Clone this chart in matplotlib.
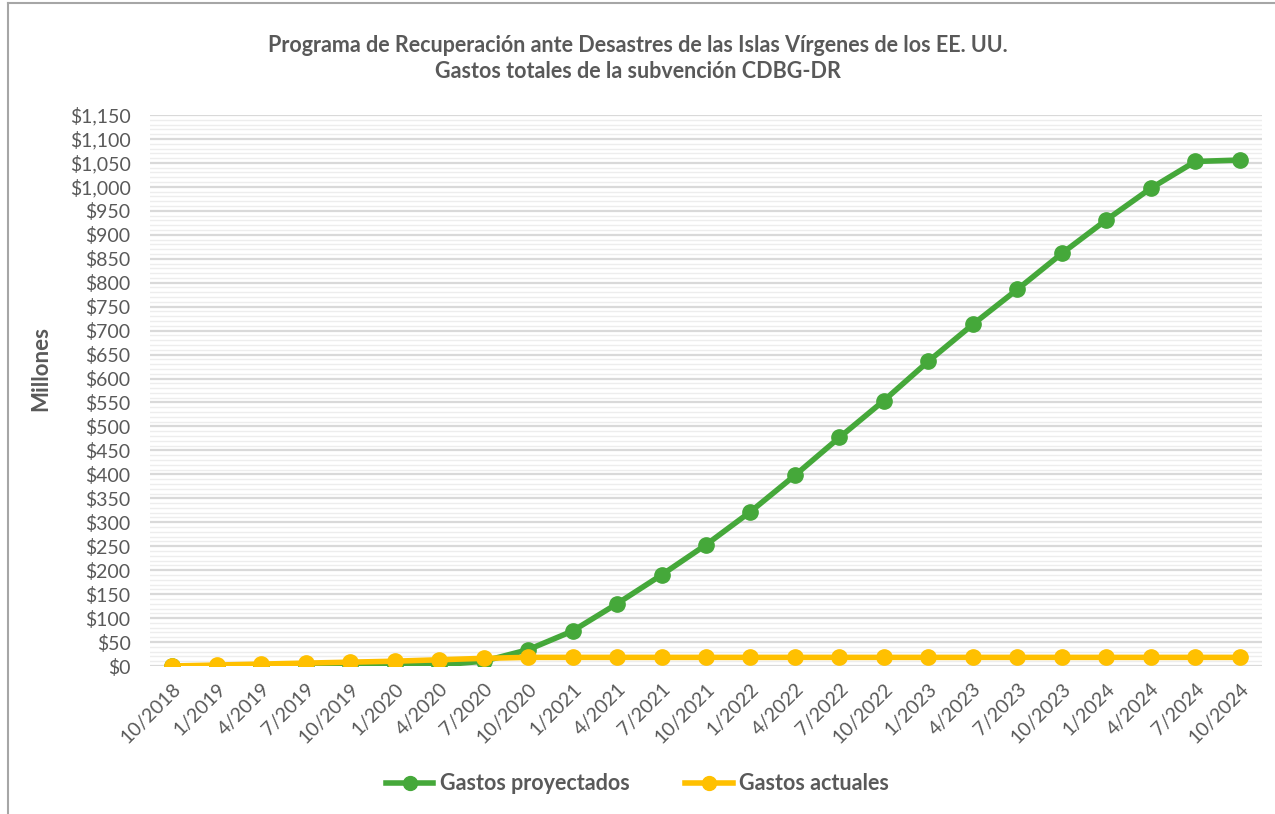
import numpy as np
import matplotlib.pyplot as plt
from matplotlib.ticker import MultipleLocator, FuncFormatter
from matplotlib.lines import Line2D

plt.rcParams['font.family'] = ['Lato', 'DejaVu Sans']

fechas = ['10/2018', '1/2019', '4/2019', '7/2019', '10/2019', '1/2020', '4/2020',
          '7/2020', '10/2020', '1/2021', '4/2021', '7/2021', '10/2021', '1/2022',
          '4/2022', '7/2022', '10/2022', '1/2023', '4/2023', '7/2023', '10/2023',
          '1/2024', '4/2024', '7/2024', '10/2024']

# millones de dólares
proyectados = [0, 0, 1, 2, 3, 3, 2, 10, 34, 73, 130, 190, 253, 322, 398, 477,
               554, 636, 713, 786, 861, 931, 997, 1053, 1056]
actuales = [0, 2, 4, 6, 8, 10, 13, 16, 18, 18, 18, 18, 18, 18, 18, 18,
            18, 18, 18, 18, 18, 18, 18, 18, 18]

verde = '#45A83A'
amarillo = '#FFC000'
gris = '#595959'

fig = plt.figure(figsize=(12.75, 8.14), dpi=100)
ax = fig.add_axes([150 / 1275, 1 - 666 / 814, 1112 / 1275, 551 / 814])

x = np.arange(len(fechas))
ax.plot(x, proyectados, color=verde, lw=4, marker='o', ms=11, zorder=3)
ax.plot(x, actuales, color=amarillo, lw=4, marker='o', ms=11, zorder=4)

ax.set_xlim(-0.5, len(fechas) - 0.5)
ax.set_ylim(0, 1150)
ax.yaxis.set_major_locator(MultipleLocator(50))
ax.yaxis.set_minor_locator(MultipleLocator(10))
ax.yaxis.set_major_formatter(FuncFormatter(lambda v, p: '${:,.0f}'.format(v)))
ax.grid(which='major', axis='y', color='#D9D9D9', lw=1.6, zorder=0)
ax.grid(which='minor', axis='y', color='#EDEDED', lw=1.0, zorder=0)
ax.set_axisbelow(True)
for s in ax.spines.values():
    s.set_visible(False)

ax.set_xticks(x)
ax.set_xticklabels(fechas, rotation=45, ha='right', rotation_mode='anchor')
ax.tick_params(axis='both', which='both', length=0, labelsize=14, labelcolor=gris)
ax.tick_params(axis='x', pad=10)
ax.tick_params(axis='y', pad=14)

ax.set_ylabel('Millones', fontsize=16, fontweight='bold', color=gris)
ax.yaxis.set_label_coords(-0.089, 0.54)

fig.text(0.5, 1 - 45 / 814, 'Programa de Recuperación ante Desastres de las Islas Vírgenes de los EE. UU.',
         ha='center', va='center', fontsize=15.5, fontweight='bold', color=gris)
fig.text(0.5, 1 - 72 / 814, 'Gastos totales de la subvención CDBG-DR',
         ha='center', va='center', fontsize=15.5, fontweight='bold', color=gris)

handles = [Line2D([], [], color=verde, lw=4, marker='o', ms=10),
           Line2D([], [], color=amarillo, lw=4, marker='o', ms=10)]
fig.legend(handles, ['Gastos proyectados', 'Gastos actuales'], loc='center',
           bbox_to_anchor=(0.5, 1 - 784 / 814), ncol=2, frameon=False,
           handlelength=2.2, handletextpad=0.3, columnspacing=2.6,
           prop={'weight': 'bold', 'size': 15.5})
for t in fig.legends[0].get_texts():
    t.set_color(gris)

# marco del gráfico
fig.add_artist(Line2D([8 / 1275, 8 / 1275], [0, 1 - 3 / 814], color='#A6A6A6', lw=1.5))
fig.add_artist(Line2D([8 / 1275, 1], [1 - 3 / 814, 1 - 3 / 814], color='#A6A6A6', lw=1.5))

fig.savefig('out.png', dpi=100)
